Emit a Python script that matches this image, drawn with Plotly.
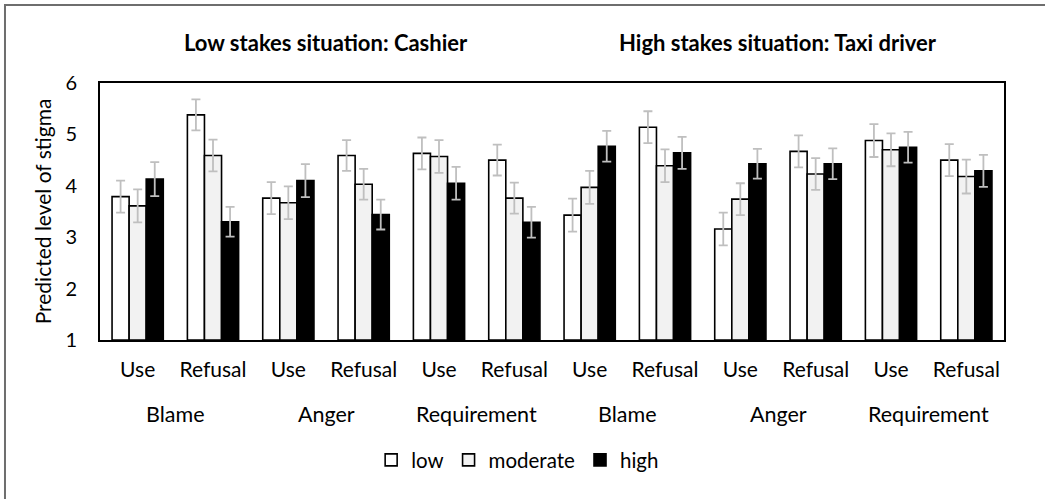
import plotly.graph_objects as go

situations = ["Low stakes situation: Cashier", "High stakes situation: Taxi driver"]
measures = ["Blame", "Anger", "Requirement"]
targets = ["Use", "Refusal"]
levels = ["low", "moderate", "high"]

# 12 subgroups: situation x measure x target
low_vals = [3.79, 5.38, 3.76, 4.59, 4.63, 4.50, 3.43, 5.14, 3.16, 4.67, 4.88, 4.50]
mod_vals = [3.61, 4.59, 3.67, 4.03, 4.57, 3.76, 3.97, 4.39, 3.74, 4.23, 4.70, 4.18]
high_vals = [4.13, 3.30, 4.10, 3.44, 4.05, 3.29, 4.77, 4.64, 4.43, 4.43, 4.75, 4.29]

low_err = [0.31, 0.30, 0.31, 0.30, 0.31, 0.30, 0.32, 0.31, 0.32, 0.31, 0.32, 0.31]
mod_err = [0.32, 0.31, 0.32, 0.30, 0.32, 0.30, 0.32, 0.32, 0.31, 0.31, 0.32, 0.33]
high_err = [0.33, 0.29, 0.32, 0.29, 0.32, 0.30, 0.30, 0.31, 0.29, 0.30, 0.30, 0.31]

fills = ["#ffffff", "#f2f2f2", "#000000"]

n = len(situations) * len(measures) * len(targets)
xpos = list(range(n))
tick_text = [t for _ in situations for _ in measures for t in targets]

FONT = "Lato"

fig = go.Figure()
for name, vals, errs, col in zip(levels, [low_vals, mod_vals, high_vals],
                                 [low_err, mod_err, high_err], fills):
    fig.add_trace(go.Bar(
        x=xpos, y=[v - 1 for v in vals], base=1, name=name,
        marker=dict(color=col, line=dict(color="#000000", width=1.6)),
        error_y=dict(type="data", array=errs, color="#bfbfbf", thickness=1.8, width=4.5),
    ))

annotations = []
k = 0
for s in situations:
    for m in measures:
        annotations.append(dict(x=k + 0.5, y=-0.288, xref="x", yref="paper", text=m,
                                xanchor="center", yanchor="middle",
                                showarrow=False, font=dict(family=FONT, size=21.5, color="#000")))
        k += 2
for i, s in enumerate(situations):
    annotations.append(dict(x=i * 6 + 2.5, y=1.156, xref="x", yref="paper", text="<b>" + s + "</b>",
                            xanchor="center", yanchor="middle",
                            showarrow=False, font=dict(family=FONT, size=22, color="#000")))

fig.update_layout(
    width=1045, height=499,
    margin=dict(l=100, r=41, t=83, b=159),
    paper_bgcolor="white", plot_bgcolor="white",
    barmode="group", bargap=0.32, bargroupgap=0,
    font=dict(family=FONT, size=20, color="#000"),
    showlegend=True,
    legend=dict(orientation="h", x=0.462, xanchor="center", y=-0.467, yanchor="middle",
                font=dict(family=FONT, size=20.5), itemwidth=30, traceorder="normal"),
    annotations=annotations,
    shapes=[dict(type="rect", xref="paper", yref="paper",
                 x0=-0.1051, x1=1.06, y0=-0.7, y1=1.3035,
                 line=dict(color="#6e6e6e", width=2), fillcolor="rgba(0,0,0,0)", layer="below")],
)
fig.update_xaxes(range=[-0.5, n - 0.5], tickmode="array", tickvals=xpos, ticktext=tick_text,
                 showgrid=False, zeroline=False, showline=True, linecolor="#000", linewidth=1.6,
                 mirror=True, ticks="", tickfont=dict(family=FONT, size=21), automargin=False,
                 ticklabelstandoff=10)
fig.update_yaxes(range=[1, 6], tickvals=[1, 2, 3, 4, 5, 6], showgrid=False, zeroline=False,
                 showline=True, linecolor="#000", linewidth=1.6, mirror=True, ticks="",
                 tickfont=dict(family=FONT, size=20), automargin=False, ticklabelstandoff=17,
                 title=dict(text="Predicted level of stigma", font=dict(family=FONT, size=21), standoff=8))

fig.write_html("out.html", post_script="document.body.style.margin='0';",
               config={"displayModeBar": False})
